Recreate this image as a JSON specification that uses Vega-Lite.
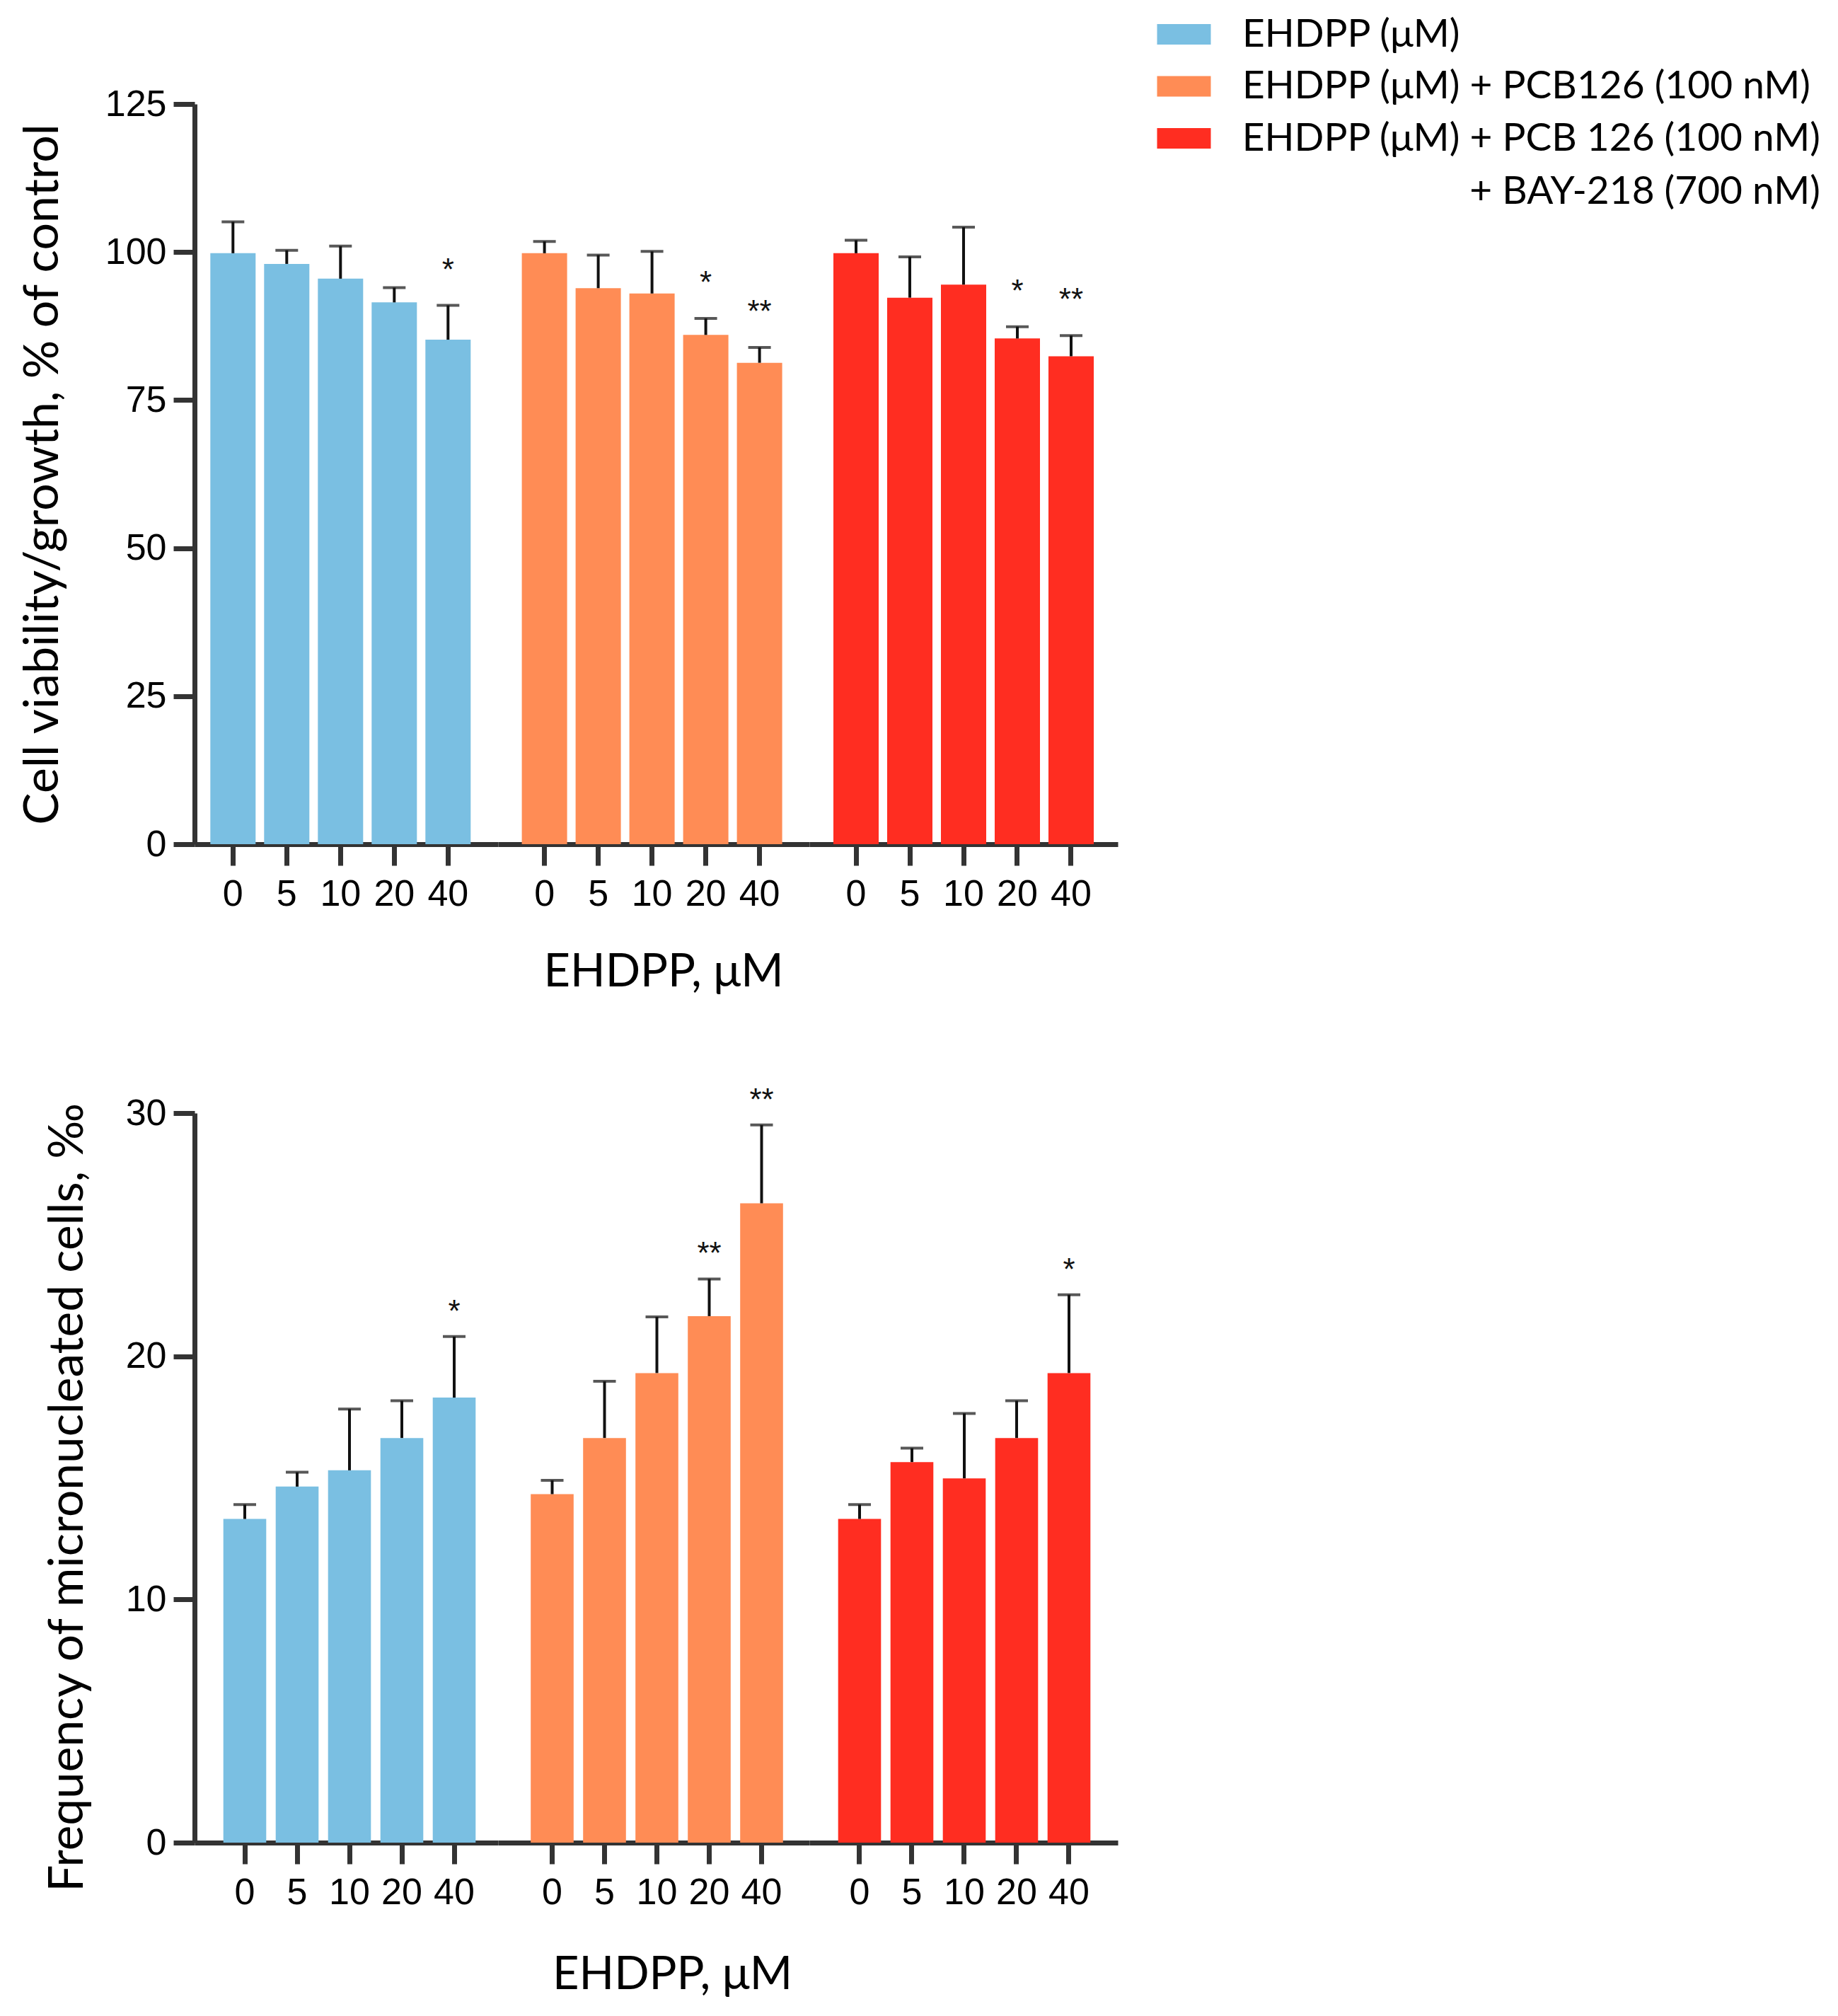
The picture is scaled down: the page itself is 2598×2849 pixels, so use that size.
{
  "$schema": "https://vega.github.io/schema/vega-lite/v6.json",
  "background": "white",
  "padding": {"left": 27, "top": 21, "right": 10, "bottom": 10},
  "datasets": {
    "viab": [
      {"g": "A", "group": "EHDPP (μM)", "dose": "0", "mean": 99.8, "upper": 105.1, "sig": ""},
      {"g": "A", "group": "EHDPP (μM)", "dose": "5", "mean": 98.0, "upper": 100.3, "sig": ""},
      {"g": "A", "group": "EHDPP (μM)", "dose": "10", "mean": 95.5, "upper": 101.0, "sig": ""},
      {"g": "A", "group": "EHDPP (μM)", "dose": "20", "mean": 91.5, "upper": 94.0, "sig": ""},
      {"g": "A", "group": "EHDPP (μM)", "dose": "40", "mean": 85.2, "upper": 91.0, "sig": "*"},
      {"g": "B", "group": "EHDPP (μM) + PCB126 (100 nM)", "dose": "0", "mean": 99.8, "upper": 101.8, "sig": ""},
      {"g": "B", "group": "EHDPP (μM) + PCB126 (100 nM)", "dose": "5", "mean": 93.9, "upper": 99.5, "sig": ""},
      {"g": "B", "group": "EHDPP (μM) + PCB126 (100 nM)", "dose": "10", "mean": 93.0, "upper": 100.1, "sig": ""},
      {"g": "B", "group": "EHDPP (μM) + PCB126 (100 nM)", "dose": "20", "mean": 86.0, "upper": 88.8, "sig": "*"},
      {"g": "B", "group": "EHDPP (μM) + PCB126 (100 nM)", "dose": "40", "mean": 81.3, "upper": 83.9, "sig": "**"},
      {"g": "C", "group": "EHDPP (μM) + PCB 126 (100 nM) + BAY-218 (700 nM)", "dose": "0", "mean": 99.8, "upper": 102.0, "sig": ""},
      {"g": "C", "group": "EHDPP (μM) + PCB 126 (100 nM) + BAY-218 (700 nM)", "dose": "5", "mean": 92.3, "upper": 99.2, "sig": ""},
      {"g": "C", "group": "EHDPP (μM) + PCB 126 (100 nM) + BAY-218 (700 nM)", "dose": "10", "mean": 94.5, "upper": 104.2, "sig": ""},
      {"g": "C", "group": "EHDPP (μM) + PCB 126 (100 nM) + BAY-218 (700 nM)", "dose": "20", "mean": 85.4, "upper": 87.4, "sig": "*"},
      {"g": "C", "group": "EHDPP (μM) + PCB 126 (100 nM) + BAY-218 (700 nM)", "dose": "40", "mean": 82.4, "upper": 85.9, "sig": "**"}
    ],
    "mn": [
      {"g": "A", "group": "EHDPP (μM)", "dose": "0", "mean": 13.31, "upper": 13.9, "sig": ""},
      {"g": "A", "group": "EHDPP (μM)", "dose": "5", "mean": 14.64, "upper": 15.23, "sig": ""},
      {"g": "A", "group": "EHDPP (μM)", "dose": "10", "mean": 15.31, "upper": 17.83, "sig": ""},
      {"g": "A", "group": "EHDPP (μM)", "dose": "20", "mean": 16.64, "upper": 18.17, "sig": ""},
      {"g": "A", "group": "EHDPP (μM)", "dose": "40", "mean": 18.3, "upper": 20.81, "sig": "*"},
      {"g": "B", "group": "EHDPP (μM) + PCB126 (100 nM)", "dose": "0", "mean": 14.33, "upper": 14.9, "sig": ""},
      {"g": "B", "group": "EHDPP (μM) + PCB126 (100 nM)", "dose": "5", "mean": 16.64, "upper": 18.97, "sig": ""},
      {"g": "B", "group": "EHDPP (μM) + PCB126 (100 nM)", "dose": "10", "mean": 19.31, "upper": 21.62, "sig": ""},
      {"g": "B", "group": "EHDPP (μM) + PCB126 (100 nM)", "dose": "20", "mean": 21.65, "upper": 23.18, "sig": "**"},
      {"g": "B", "group": "EHDPP (μM) + PCB126 (100 nM)", "dose": "40", "mean": 26.29, "upper": 29.51, "sig": "**"},
      {"g": "C", "group": "EHDPP (μM) + PCB 126 (100 nM) + BAY-218 (700 nM)", "dose": "0", "mean": 13.31, "upper": 13.9, "sig": ""},
      {"g": "C", "group": "EHDPP (μM) + PCB 126 (100 nM) + BAY-218 (700 nM)", "dose": "5", "mean": 15.65, "upper": 16.22, "sig": ""},
      {"g": "C", "group": "EHDPP (μM) + PCB 126 (100 nM) + BAY-218 (700 nM)", "dose": "10", "mean": 14.98, "upper": 17.65, "sig": ""},
      {"g": "C", "group": "EHDPP (μM) + PCB 126 (100 nM) + BAY-218 (700 nM)", "dose": "20", "mean": 16.64, "upper": 18.17, "sig": ""},
      {"g": "C", "group": "EHDPP (μM) + PCB 126 (100 nM) + BAY-218 (700 nM)", "dose": "40", "mean": 19.31, "upper": 22.53, "sig": "*"}
    ]
  },
  "columns": 3,
  "bounds": "flush",
  "spacing": {"row": 380, "column": 0},
  "concat": [
    {
      "width": 429, "height": 1046,
      "data": {"name": "viab"},
      "transform": [{"filter": "datum.g == 'A'"}],
      "encoding": {"x": {"field": "dose", "type": "nominal", "sort": ["0", "5", "10", "20", "40"], "scale": {"paddingInner": 0.15789, "paddingOuter": 0.40132, "align": 0.3656}, "axis": {"title": null}}},
      "layer": [
        {"mark": {"type": "bar"}, "encoding": {
          "y": {"field": "mean", "type": "quantitative", "scale": {"domain": [0, 125], "nice": false}, "axis": {"title": "Cell viability/growth, % of control", "values": [0, 25, 50, 75, 100, 125], "titleFontSize": 68, "titlePadding": 53}},
          "color": {"field": "group", "type": "nominal", "scale": {"domain": ["EHDPP (μM)", "EHDPP (μM) + PCB126 (100 nM)", "EHDPP (μM) + PCB 126 (100 nM) + BAY-218 (700 nM)"], "range": ["#7ABFE2", "#FF8C55", "#FF2D21"]}, "legend": {"title": null, "labelExpr": "datum.value == 'EHDPP (μM) + PCB 126 (100 nM) + BAY-218 (700 nM)' ? ['EHDPP (μM) + PCB 126 (100 nM)', '+ BAY-218 (700 nM)'] : datum.label", "encode": {"labels": {"update": {"align": {"signal": "datum.value == 'EHDPP (μM) + PCB 126 (100 nM) + BAY-218 (700 nM)' ? 'right' : 'left'"}, "dx": {"signal": "datum.value == 'EHDPP (μM) + PCB 126 (100 nM) + BAY-218 (700 nM)' ? 817 : 0"}, "lineHeight": {"value": 75}}}}}}
        }},
        {"mark": {"type": "rule", "strokeWidth": 4, "color": "#111111"}, "encoding": {"y": {"field": "mean", "type": "quantitative", "scale": {"domain": [0, 125], "nice": false}, "axis": {"title": "Cell viability/growth, % of control", "values": [0, 25, 50, 75, 100, 125], "titleFontSize": 68, "titlePadding": 53}}, "y2": {"field": "upper"}}},
        {"mark": {"type": "tick", "thickness": 4, "size": 32, "color": "#111111"}, "encoding": {"y": {"field": "upper", "type": "quantitative", "scale": {"domain": [0, 125], "nice": false}, "axis": {"title": "Cell viability/growth, % of control", "values": [0, 25, 50, 75, 100, 125], "titleFontSize": 68, "titlePadding": 53}}}},
        {"transform": [{"filter": "datum.sig != ''"}], "mark": {"type": "text", "font": "Liberation Sans", "fontSize": 44, "baseline": "alphabetic", "dy": -36, "color": "#111111"}, "encoding": {"y": {"field": "upper", "type": "quantitative", "scale": {"domain": [0, 125], "nice": false}, "axis": {"title": "Cell viability/growth, % of control", "values": [0, 25, 50, 75, 100, 125], "titleFontSize": 68, "titlePadding": 53}}, "text": {"field": "sig"}}}
      ]
    },
    {
      "width": 440, "height": 1046,
      "data": {"name": "viab"},
      "transform": [{"filter": "datum.g == 'B'"}],
      "encoding": {"x": {"field": "dose", "type": "nominal", "sort": ["0", "5", "10", "20", "40"], "scale": {"paddingInner": 0.15789, "paddingOuter": 0.47368, "align": 0.4667}, "axis": {"title": "EHDPP, μM", "titleFontSize": 65, "titlePadding": 53, "titleX": 233.5}}},
      "layer": [
        {"mark": {"type": "bar"}, "encoding": {
          "y": {"field": "mean", "type": "quantitative", "scale": {"domain": [0, 125], "nice": false}, "axis": null},
          "color": {"field": "group", "type": "nominal", "scale": {"domain": ["EHDPP (μM)", "EHDPP (μM) + PCB126 (100 nM)", "EHDPP (μM) + PCB 126 (100 nM) + BAY-218 (700 nM)"], "range": ["#7ABFE2", "#FF8C55", "#FF2D21"]}, "legend": {"title": null, "labelExpr": "datum.value == 'EHDPP (μM) + PCB 126 (100 nM) + BAY-218 (700 nM)' ? ['EHDPP (μM) + PCB 126 (100 nM)', '+ BAY-218 (700 nM)'] : datum.label", "encode": {"labels": {"update": {"align": {"signal": "datum.value == 'EHDPP (μM) + PCB 126 (100 nM) + BAY-218 (700 nM)' ? 'right' : 'left'"}, "dx": {"signal": "datum.value == 'EHDPP (μM) + PCB 126 (100 nM) + BAY-218 (700 nM)' ? 817 : 0"}, "lineHeight": {"value": 75}}}}}}
        }},
        {"mark": {"type": "rule", "strokeWidth": 4, "color": "#111111"}, "encoding": {"y": {"field": "mean", "type": "quantitative", "scale": {"domain": [0, 125], "nice": false}, "axis": null}, "y2": {"field": "upper"}}},
        {"mark": {"type": "tick", "thickness": 4, "size": 32, "color": "#111111"}, "encoding": {"y": {"field": "upper", "type": "quantitative", "scale": {"domain": [0, 125], "nice": false}, "axis": null}}},
        {"transform": [{"filter": "datum.sig != ''"}], "mark": {"type": "text", "font": "Liberation Sans", "fontSize": 44, "baseline": "alphabetic", "dy": -36, "color": "#111111"}, "encoding": {"y": {"field": "upper", "type": "quantitative", "scale": {"domain": [0, 125], "nice": false}, "axis": null}, "text": {"field": "sig"}}}
      ]
    },
    {
      "width": 436, "height": 1046,
      "data": {"name": "viab"},
      "transform": [{"filter": "datum.g == 'C'"}],
      "encoding": {"x": {"field": "dose", "type": "nominal", "sort": ["0", "5", "10", "20", "40"], "scale": {"paddingInner": 0.15789, "paddingOuter": 0.44737, "align": 0.5}, "axis": {"title": null}}},
      "layer": [
        {"mark": {"type": "bar"}, "encoding": {
          "y": {"field": "mean", "type": "quantitative", "scale": {"domain": [0, 125], "nice": false}, "axis": null},
          "color": {"field": "group", "type": "nominal", "scale": {"domain": ["EHDPP (μM)", "EHDPP (μM) + PCB126 (100 nM)", "EHDPP (μM) + PCB 126 (100 nM) + BAY-218 (700 nM)"], "range": ["#7ABFE2", "#FF8C55", "#FF2D21"]}, "legend": {"title": null, "labelExpr": "datum.value == 'EHDPP (μM) + PCB 126 (100 nM) + BAY-218 (700 nM)' ? ['EHDPP (μM) + PCB 126 (100 nM)', '+ BAY-218 (700 nM)'] : datum.label", "encode": {"labels": {"update": {"align": {"signal": "datum.value == 'EHDPP (μM) + PCB 126 (100 nM) + BAY-218 (700 nM)' ? 'right' : 'left'"}, "dx": {"signal": "datum.value == 'EHDPP (μM) + PCB 126 (100 nM) + BAY-218 (700 nM)' ? 817 : 0"}, "lineHeight": {"value": 75}}}}}}
        }},
        {"mark": {"type": "rule", "strokeWidth": 4, "color": "#111111"}, "encoding": {"y": {"field": "mean", "type": "quantitative", "scale": {"domain": [0, 125], "nice": false}, "axis": null}, "y2": {"field": "upper"}}},
        {"mark": {"type": "tick", "thickness": 4, "size": 32, "color": "#111111"}, "encoding": {"y": {"field": "upper", "type": "quantitative", "scale": {"domain": [0, 125], "nice": false}, "axis": null}}},
        {"transform": [{"filter": "datum.sig != ''"}], "mark": {"type": "text", "font": "Liberation Sans", "fontSize": 44, "baseline": "alphabetic", "dy": -36, "color": "#111111"}, "encoding": {"y": {"field": "upper", "type": "quantitative", "scale": {"domain": [0, 125], "nice": false}, "axis": null}, "text": {"field": "sig"}}}
      ]
    },
    {
      "width": 429, "height": 1031,
      "data": {"name": "mn"},
      "transform": [{"filter": "datum.g == 'A'"}],
      "encoding": {"x": {"field": "dose", "type": "nominal", "sort": ["0", "5", "10", "20", "40"], "scale": {"paddingInner": 0.18108, "paddingOuter": 0.48919, "align": 0.5622}, "axis": {"title": null}}},
      "layer": [
        {"mark": {"type": "bar"}, "encoding": {
          "y": {"field": "mean", "type": "quantitative", "scale": {"domain": [0, 30], "nice": false}, "axis": {"title": "Frequency of micronucleated cells, ‰", "values": [0, 10, 20, 30], "titleFontSize": 67.5, "titlePadding": 47, "titleY": 543}},
          "color": {"field": "group", "type": "nominal", "scale": {"domain": ["EHDPP (μM)", "EHDPP (μM) + PCB126 (100 nM)", "EHDPP (μM) + PCB 126 (100 nM) + BAY-218 (700 nM)"], "range": ["#7ABFE2", "#FF8C55", "#FF2D21"]}, "legend": {"title": null, "labelExpr": "datum.value == 'EHDPP (μM) + PCB 126 (100 nM) + BAY-218 (700 nM)' ? ['EHDPP (μM) + PCB 126 (100 nM)', '+ BAY-218 (700 nM)'] : datum.label", "encode": {"labels": {"update": {"align": {"signal": "datum.value == 'EHDPP (μM) + PCB 126 (100 nM) + BAY-218 (700 nM)' ? 'right' : 'left'"}, "dx": {"signal": "datum.value == 'EHDPP (μM) + PCB 126 (100 nM) + BAY-218 (700 nM)' ? 817 : 0"}, "lineHeight": {"value": 75}}}}}}
        }},
        {"mark": {"type": "rule", "strokeWidth": 4, "color": "#111111"}, "encoding": {"y": {"field": "mean", "type": "quantitative", "scale": {"domain": [0, 30], "nice": false}, "axis": {"title": "Frequency of micronucleated cells, ‰", "values": [0, 10, 20, 30], "titleFontSize": 67.5, "titlePadding": 47, "titleY": 543}}, "y2": {"field": "upper"}}},
        {"mark": {"type": "tick", "thickness": 4, "size": 32, "color": "#111111"}, "encoding": {"y": {"field": "upper", "type": "quantitative", "scale": {"domain": [0, 30], "nice": false}, "axis": {"title": "Frequency of micronucleated cells, ‰", "values": [0, 10, 20, 30], "titleFontSize": 67.5, "titlePadding": 47, "titleY": 543}}}},
        {"transform": [{"filter": "datum.sig != ''"}], "mark": {"type": "text", "font": "Liberation Sans", "fontSize": 44, "baseline": "alphabetic", "dy": -21, "color": "#111111"}, "encoding": {"y": {"field": "upper", "type": "quantitative", "scale": {"domain": [0, 30], "nice": false}, "axis": {"title": "Frequency of micronucleated cells, ‰", "values": [0, 10, 20, 30], "titleFontSize": 67.5, "titlePadding": 47, "titleY": 543}}, "text": {"field": "sig"}}}
      ]
    },
    {
      "width": 440, "height": 1031,
      "data": {"name": "mn"},
      "transform": [{"filter": "datum.g == 'B'"}],
      "encoding": {"x": {"field": "dose", "type": "nominal", "sort": ["0", "5", "10", "20", "40"], "scale": {"paddingInner": 0.18108, "paddingOuter": 0.56351, "align": 0.55396}, "axis": {"title": "EHDPP, μM", "titleFontSize": 65, "titlePadding": 59, "titleX": 246}}},
      "layer": [
        {"mark": {"type": "bar"}, "encoding": {
          "y": {"field": "mean", "type": "quantitative", "scale": {"domain": [0, 30], "nice": false}, "axis": null},
          "color": {"field": "group", "type": "nominal", "scale": {"domain": ["EHDPP (μM)", "EHDPP (μM) + PCB126 (100 nM)", "EHDPP (μM) + PCB 126 (100 nM) + BAY-218 (700 nM)"], "range": ["#7ABFE2", "#FF8C55", "#FF2D21"]}, "legend": {"title": null, "labelExpr": "datum.value == 'EHDPP (μM) + PCB 126 (100 nM) + BAY-218 (700 nM)' ? ['EHDPP (μM) + PCB 126 (100 nM)', '+ BAY-218 (700 nM)'] : datum.label", "encode": {"labels": {"update": {"align": {"signal": "datum.value == 'EHDPP (μM) + PCB 126 (100 nM) + BAY-218 (700 nM)' ? 'right' : 'left'"}, "dx": {"signal": "datum.value == 'EHDPP (μM) + PCB 126 (100 nM) + BAY-218 (700 nM)' ? 817 : 0"}, "lineHeight": {"value": 75}}}}}}
        }},
        {"mark": {"type": "rule", "strokeWidth": 4, "color": "#111111"}, "encoding": {"y": {"field": "mean", "type": "quantitative", "scale": {"domain": [0, 30], "nice": false}, "axis": null}, "y2": {"field": "upper"}}},
        {"mark": {"type": "tick", "thickness": 4, "size": 32, "color": "#111111"}, "encoding": {"y": {"field": "upper", "type": "quantitative", "scale": {"domain": [0, 30], "nice": false}, "axis": null}}},
        {"transform": [{"filter": "datum.sig != ''"}], "mark": {"type": "text", "font": "Liberation Sans", "fontSize": 44, "baseline": "alphabetic", "dy": -21, "color": "#111111"}, "encoding": {"y": {"field": "upper", "type": "quantitative", "scale": {"domain": [0, 30], "nice": false}, "axis": null}, "text": {"field": "sig"}}}
      ]
    },
    {
      "width": 436, "height": 1031,
      "data": {"name": "mn"},
      "transform": [{"filter": "datum.g == 'C'"}],
      "encoding": {"x": {"field": "dose", "type": "nominal", "sort": ["0", "5", "10", "20", "40"], "scale": {"paddingInner": 0.18108, "paddingOuter": 0.53649, "align": 0.51259}, "axis": {"title": null}}},
      "layer": [
        {"mark": {"type": "bar"}, "encoding": {
          "y": {"field": "mean", "type": "quantitative", "scale": {"domain": [0, 30], "nice": false}, "axis": null},
          "color": {"field": "group", "type": "nominal", "scale": {"domain": ["EHDPP (μM)", "EHDPP (μM) + PCB126 (100 nM)", "EHDPP (μM) + PCB 126 (100 nM) + BAY-218 (700 nM)"], "range": ["#7ABFE2", "#FF8C55", "#FF2D21"]}, "legend": {"title": null, "labelExpr": "datum.value == 'EHDPP (μM) + PCB 126 (100 nM) + BAY-218 (700 nM)' ? ['EHDPP (μM) + PCB 126 (100 nM)', '+ BAY-218 (700 nM)'] : datum.label", "encode": {"labels": {"update": {"align": {"signal": "datum.value == 'EHDPP (μM) + PCB 126 (100 nM) + BAY-218 (700 nM)' ? 'right' : 'left'"}, "dx": {"signal": "datum.value == 'EHDPP (μM) + PCB 126 (100 nM) + BAY-218 (700 nM)' ? 817 : 0"}, "lineHeight": {"value": 75}}}}}}
        }},
        {"mark": {"type": "rule", "strokeWidth": 4, "color": "#111111"}, "encoding": {"y": {"field": "mean", "type": "quantitative", "scale": {"domain": [0, 30], "nice": false}, "axis": null}, "y2": {"field": "upper"}}},
        {"mark": {"type": "tick", "thickness": 4, "size": 32, "color": "#111111"}, "encoding": {"y": {"field": "upper", "type": "quantitative", "scale": {"domain": [0, 30], "nice": false}, "axis": null}}},
        {"transform": [{"filter": "datum.sig != ''"}], "mark": {"type": "text", "font": "Liberation Sans", "fontSize": 44, "baseline": "alphabetic", "dy": -21, "color": "#111111"}, "encoding": {"y": {"field": "upper", "type": "quantitative", "scale": {"domain": [0, 30], "nice": false}, "axis": null}, "text": {"field": "sig"}}}
      ]
    }
  ],
  "config": {
    "view": {"stroke": null},
    "axis": {"grid": false, "domainColor": "#333333", "domainWidth": 7, "tickColor": "#333333", "tickWidth": 7, "tickSize": 30, "labelFont": "Liberation Sans", "labelFontSize": 52, "labelColor": "#000000", "titleFont": "Lato", "titleFontWeight": "normal", "titleColor": "#000000"},
    "axisX": {"labelAngle": 0, "labelPadding": 15},
    "axisY": {"labelPadding": 10},
    "legend": {"orient": "none", "legendX": 1361, "legendY": -126, "padding": 0, "symbolType": "M-2.533,-0.967H2.533V0.967H-2.533Z", "symbolSize": 900, "symbolStrokeWidth": 0, "symbolOffset": 10, "labelOffset": 55, "labelFont": "Lato", "labelFontSize": 55, "labelColor": "#000000", "labelLimit": 0, "rowPadding": 17.5}
  }
}
